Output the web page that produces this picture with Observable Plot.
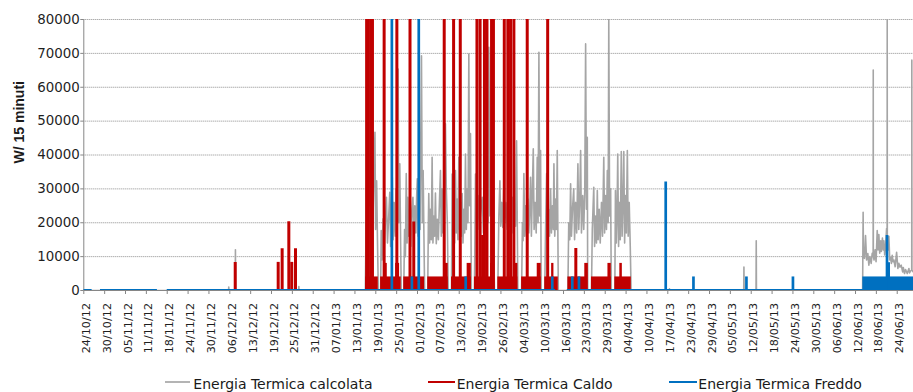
<!DOCTYPE html>
<html><head><meta charset="utf-8">
<script src="https://cdn.jsdelivr.net/npm/d3@7"></script>
<script src="https://cdn.jsdelivr.net/npm/@observablehq/plot@0.6"></script>
<style>
body{margin:0;background:#fff;}
#chart{position:relative;width:913px;height:392px;overflow:hidden;font-family:"DejaVu Sans";background:#fff}
#legend{position:absolute;left:0;top:365px;width:913px;height:27px;}
.swatch{position:absolute;height:2px;top:15.7px}
.label{position:absolute;top:11px;font-size:14px;line-height:16px;white-space:nowrap;color:#1a1a1a}
</style></head>
<body><div id="chart"><div id="plot"></div><div id="legend"></div></div>
<script>
// ---- category axis (one tick every 576 rows of 15-minute data) ----
const tickLabels = ["24/10/12","30/10/12","05/11/12","11/11/12","18/11/12","24/11/12","30/11/12","06/12/12","13/12/12","19/12/12","25/12/12","31/12/12","07/01/13","13/01/13","19/01/13","25/01/13","01/02/13","07/02/13","13/02/13","19/02/13","26/02/13","04/03/13","10/03/13","16/03/13","23/03/13","29/03/13","04/04/13","10/04/13","17/04/13","23/04/13","29/04/13","05/05/13","12/05/13","18/05/13","24/05/13","30/05/13","06/06/13","12/06/13","18/06/13","24/06/13"];
const yTicks = [0,10000,20000,30000,40000,50000,60000,70000,80000];
const seriesNames = ["Energia Termica calcolata","Energia Termica Caldo","Energia Termica Freddo"];
const seriesColors = ["#a5a5a5","#c00000","#0070c0"];

// ---- Energia Termica calcolata (x = position on category axis, y = W/15 min) ----
const grayX = [0,6.94,6.95,6.96,7.26,7.27,7.28,10.30,10.31,10.32,13.50,
 13.55,13.62,13.70,13.78,13.86,13.96,13.99,14.04,14.08,14.12,
 14.23,14.26,14.30,14.35,14.40,14.45,14.51,14.56,14.62,14.67,14.71,14.75,14.79,14.83,14.88,14.93,14.97,15.01,15.07,15.10,15.15,15.19,15.22,
 15.34,15.38,15.42,15.46,15.50,15.54,15.58,15.63,15.68,15.73,15.78,15.82,15.87,15.92,15.96,15.99,16.03,16.08,16.12,16.19,16.23,16.27,16.31,16.34,
 16.49,16.52,16.54,16.58,16.62,16.66,16.70,16.74,16.78,16.82,16.86,16.90,16.95,17.00,17.05,17.10,17.14,17.18,17.22,17.28,17.34,17.38,17.43,17.47,
 17.63,17.66,17.70,17.74,17.78,17.82,17.86,17.90,17.94,17.98,18.02,18.06,18.10,18.14,18.18,18.22,18.26,18.30,18.34,18.38,18.42,18.46,18.50,18.54,18.58,
 18.73,18.78,18.82,18.90,18.96,19.04,19.10,19.16,19.22,19.28,19.34,19.38,19.42,19.47,19.52,19.58,19.63,19.69,
 19.85,19.90,19.95,19.99,20.04,20.09,20.14,20.18,20.24,20.30,20.36,20.42,20.48,20.54,20.58,20.64,20.70,20.75,20.78,20.81,
 20.99,21.03,21.06,21.10,21.14,21.19,21.24,21.29,21.34,21.38,21.42,21.46,21.50,21.55,21.59,21.64,21.69,21.74,21.78,21.82,21.86,21.90,21.93,
 22.10,22.14,22.19,22.23,22.28,22.33,22.38,22.42,22.47,22.51,22.54,22.58,22.63,22.66,22.70,22.75,
 23.21,23.25,23.30,23.34,23.38,23.43,23.49,23.53,23.58,23.63,23.69,23.73,23.78,23.82,23.86,23.92,23.97,24.02,24.06,24.10,24.14,24.16,
 24.34,24.38,24.45,24.49,24.54,24.58,24.62,24.66,24.71,24.76,24.82,24.87,24.93,24.97,25.02,25.06,25.10,25.14,25.17,25.21,25.26,25.29,
 25.46,25.49,25.53,25.57,25.60,25.64,25.68,25.72,25.77,25.81,25.85,25.89,25.93,25.97,26.01,26.06,26.10,26.15,26.20,26.24,
 28.07,28.08,28.09,31.64,31.65,31.66,32.23,32.24,32.25,
 37.34,37.365,37.38,37.43,37.48,37.53,37.59,37.64,37.69,37.75,37.80,37.845,37.85,37.855,37.89,37.94,37.985,38.04,38.08,38.12,38.16,38.21,38.24,38.29,38.33,38.36,38.40,38.44,38.49,38.515,38.52,38.525,38.56,38.60,38.64,38.68,38.72,38.76,38.80,38.84,38.90,38.97,39.03,39.08,39.13,39.19,39.26,39.29,39.35,39.40,39.48,39.56,39.59,39.64,39.695,39.70,39.705,39.76,39.80];
const grayY = [0,0,1000,0,0,12000,0,0,1200,0,0,
 30000,45000,25000,38000,20000,46700,18000,32400,15000,0,
 0,17700,9000,21200,12000,19000,27500,14000,22000,29000,13000,24000,33400,15000,26000,16000,30000,17000,65400,20000,37400,14000,0,
 0,18000,10000,34500,14000,27500,16000,22000,13000,24000,27500,15000,25000,17000,28000,33000,16000,26000,18000,69300,20000,35400,15000,0,
 0,20000,28600,14000,24000,15000,39300,14000,22000,16000,28800,13800,21000,15000,26000,35400,16000,30000,17000,24000,49200,30000,20000,0,
 0,34400,16000,25000,14000,35400,17000,27000,15000,39300,18000,26000,16000,28600,14000,24000,17000,40300,18000,30000,20000,69800,25000,46300,0,
 0,34400,20000,28000,18000,24000,27500,17000,25000,19000,30000,20000,71800,22000,28000,46300,20000,0,
 0,22000,32400,19000,26000,18600,31500,20000,26000,18000,24000,19000,25000,27500,17000,25000,19000,44200,22000,0,
 0,20000,14700,34500,16000,25000,15000,27000,17000,24000,33400,16000,28000,41800,18000,26000,17000,39300,20000,70300,22000,41300,0,
 0,18000,34500,15000,24000,16000,30000,17000,25000,18000,37400,16000,27000,18000,41300,0,
 0,20000,15000,31500,16000,24000,30000,15000,26000,17000,37400,18000,27000,41300,17000,28000,18000,30000,72800,24000,45200,0,
 0,18000,30500,13000,22000,14000,29500,15000,24000,14000,26000,16000,39300,17000,28000,18000,35400,20000,80000,22000,30000,0,
 0,29500,14000,24000,40300,13000,26000,15000,41000,16000,25000,41000,14000,28000,17000,41300,16000,26000,13000,0,
 0,500,0,0,6900,0,0,14700,0,
 0,23100,10000,9500,16200,9000,10900,7500,10000,8000,11000,10000,65100,10000,9000,12000,8500,17700,12000,16500,11000,14700,11500,15500,12000,14700,10500,12800,18300,15000,80000,14000,12000,16000,9000,9800,8000,10400,8500,9000,7000,11300,6500,8000,6900,7500,5500,6800,5000,6200,5000,6500,5200,5800,6000,68000,6000,5500,5800];

// ---- Energia Termica Caldo ----
const redBlockStart = [13.51,14.23,15.34,16.49,17.63,18.73,19.85,20.99,22.10,23.21,24.34,25.46];
const redBlockEnd   = [14.12,15.22,16.34,17.47,18.58,19.69,20.81,21.93,22.75,24.15,25.29,26.25];
const redBlockLevel = [4000,4000,4000,4000,4000,4000,4000,4000,4000,4000,4000,4000];
const redStepStart = [14.37,14.95,17.30,18.38,19.50,20.62,21.74,22.43,24.02,25.13,25.70];
const redStepEnd   = [14.55,15.14,17.47,18.58,19.69,20.81,21.93,22.54,24.19,25.29,25.82];
const redStepLevel = [8000,8000,8000,8000,8000,8000,8000,8000,8000,8000,8000];
const redSpikeX = [7.26,9.32,9.51,9.83,9.97,10.15,
 13.56,13.63,13.75,13.84,14.40,15.01,15.64,15.82,17.28,17.73,18.05,18.85,19.00,19.12,19.21,19.33,19.55,19.64,20.16,20.33,20.46,20.62,21.26,22.24,23.59];
const redSpikeY = [8300,8300,12300,20300,8300,12300,
 80000,80000,80000,80000,80000,80000,80000,20200,80000,80000,80000,80000,80000,16200,80000,80000,80000,80000,80000,80000,80000,80000,80000,80000,12400];

// ---- Energia Termica Freddo ----
const blueLineStart = [0,0.80,4.00,23.18];
const blueLineEnd   = [0.40,3.53,22.62,39.80];
const blueBlockStart = [37.35];
const blueBlockEnd   = [39.80];
const blueBlockLevel = [4000];
const blueSpikeX = [14.77,16.06,15.73,18.31,22.46,23.42,23.74,27.90,29.23,31.77,34.00,38.51,38.59];
const blueSpikeY = [80000,80000,4000,4000,4000,4000,4000,32000,4000,4000,4000,16200,8200];

// ---- tables built from the arrays ----
const grayData = grayX.map((x, i) => ({x, y: grayY[i]}));
const redBlocks = redBlockStart.map((x1, i) => ({x1, x2: redBlockEnd[i], y: redBlockLevel[i]}))
  .concat(redStepStart.map((x1, i) => ({x1, x2: redStepEnd[i], y: redStepLevel[i]})));
const redSpikes = redSpikeX.map((x, i) => ({x, y: redSpikeY[i]}));
const blueLines = blueLineStart.map((x1, i) => ({x1, x2: blueLineEnd[i]}));
const blueBlocks = blueBlockStart.map((x1, i) => ({x1, x2: blueBlockEnd[i], y: blueBlockLevel[i]}));
const blueSpikes = blueSpikeX.map((x, i) => ({x, y: blueSpikeY[i]}));
const tickIdx = tickLabels.map((d, i) => i);

const plot = Plot.plot({
  width: 913, height: 365,
  marginLeft: 83.3, marginRight: 0, marginTop: 19, marginBottom: 75,
  x: {domain: [0, 39.78]},
  y: {domain: [0, 80000]},
  style: {fontFamily: "DejaVu Sans", background: "#fff", color: "#1f1f1f", overflow: "visible"},
  marks: [
    Plot.ruleY(yTicks.slice(1), {stroke: "#8c8c8c", strokeDasharray: "1,1", strokeWidth: 1}),
    Plot.axisY({ticks: yTicks, tickSize: 3, tickPadding: 1, stroke: "#868686", fontSize: 13.4, tickFormat: d => String(d), label: null}),
    Plot.axisX({ticks: tickIdx, tickSize: 4, tickFormat: () => "", stroke: "#868686", label: null}),
    Plot.ruleX([0], {stroke: "#868686"}),
    Plot.ruleY([0], {stroke: "#868686"}),
    Plot.text(tickLabels, {x: (d, i) => i, frameAnchor: "bottom", rotate: -90, textAnchor: "end", dx: 6, dy: 12.5, fontSize: 11.2, fill: "#1f1f1f"}),
    Plot.text(["W/ 15 minuti"], {frameAnchor: "left", rotate: -90, dx: -64, dy: 8.5, fontSize: 14, fontWeight: "bold", fontFamily: "Liberation Sans", fill: "#1a1a1a"}),
    Plot.line(grayData, {x: "x", y: "y", stroke: seriesColors[0], strokeWidth: 1.6, clip: true}),
    Plot.rect(redBlocks, {x1: "x1", x2: "x2", y1: 0, y2: "y", fill: seriesColors[1], clip: true}),
    Plot.ruleX(redSpikes, {x: "x", y1: 0, y2: "y", stroke: seriesColors[1], strokeWidth: 3, clip: true}),
    Plot.ruleY(blueLines, {y: 0, x1: "x1", x2: "x2", stroke: seriesColors[2], strokeWidth: 3, clip: true}),
    Plot.rect(blueBlocks, {x1: "x1", x2: "x2", y1: 0, y2: "y", fill: seriesColors[2], clip: true}),
    Plot.ruleX(blueSpikes, {x: "x", y1: 0, y2: "y", stroke: seriesColors[2], strokeWidth: 2.7, clip: true})
  ]
});
document.getElementById("plot").appendChild(plot);

// ---- legend (below the chart) ----
const legend = document.getElementById("legend");
const legendSwatchLeft = [165, 428.3, 669.3];
const legendSwatchWidth = [25, 26.7, 27.4];
const legendTextLeft = [193.3, 456.7, 698.3];
const swatchColors = ["#b4b4b4", "#c00000", "#0070c0"];
seriesNames.forEach((name, i) => {
  const sw = document.createElement("div");
  sw.className = "swatch";
  sw.style.left = legendSwatchLeft[i] + "px";
  sw.style.width = legendSwatchWidth[i] + "px";
  sw.style.background = swatchColors[i];
  legend.appendChild(sw);
  const lb = document.createElement("div");
  lb.className = "label";
  lb.style.left = legendTextLeft[i] + "px";
  lb.textContent = name;
  legend.appendChild(lb);
});
</script></body></html>
